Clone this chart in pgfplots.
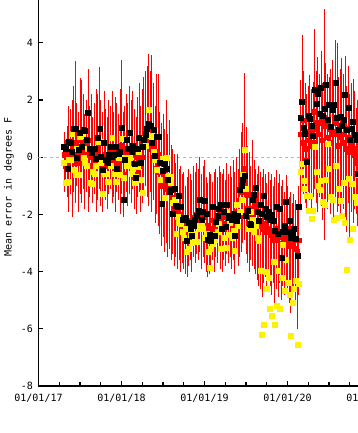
\documentclass[border=0pt]{standalone}
\usepackage{pgfplots}
\pgfplotsset{compat=1.18}
\usepackage{pgfplotstable}
\usepackage{fontspec}
\newfontfamily\gfont{DejaVu Sans Mono}
\begin{document}
\pgfplotstableread{
x lo hi r y k
0.309 -1.2 0.9 0.1 -0.2 0.36
0.328 -1.0 0.6 -0.3 -0.9 0.3
0.348 -1.4 1.1 -0.2 -0.87 -0.4
0.367 -1.9 1.8 0.2 -0.1 0.55
0.386 -1.3 1.7 0.1 -0.08 0.5
0.405 -2.1 2.0 0.3 0.83 0.19
0.425 -1.2 2.5 0.4 -0.43 1.0
0.444 -1.6 3.37 0.5 -0.6 1.0
0.463 -1.0 1.9 -0.2 0.3 0.0
0.482 -1.9 1.6 0.2 -0.6 0.25
0.502 -1.3 2.76 0.6 0.71 0.85
0.521 -1.6 2.7 0.3 0.75 0.36
0.540 -1.1 2.2 0.5 0.0 0.95
0.559 -1.8 1.5 0.2 -0.2 0.92
0.578 -1.2 2.0 0.4 -0.3 0.62
0.598 -1.9 3.1 0.6 0.3 1.57
0.617 -1.4 1.8 0.1 -0.9 0.3
0.636 -1.0 2.2 -0.3 -0.92 0.15
0.655 -1.6 1.4 0.0 -0.5 0.3
0.675 -1.3 1.9 -0.1 -0.57 0.3
0.694 -1.9 2.4 0.2 -0.3 -0.05
0.713 -1.5 2.2 0.3 0.54 0.7
0.732 -1.1 3.17 0.5 0.54 1.0
0.752 -1.7 2.0 -0.2 -0.2 0.03
0.771 -1.9 1.6 -0.4 -1.27 -0.43
0.790 -1.2 2.3 0.1 -0.57 0.5
0.809 -1.5 1.7 -0.3 -0.57 -0.1
0.828 -1.8 1.4 -0.2 -0.87 -0.2
0.848 -1.3 2.0 0.0 -0.87 0.1
0.867 -1.1 1.8 0.2 -0.28 0.36
0.886 -1.6 2.3 0.3 0.69 0.03
0.905 -1.4 1.6 -0.1 -0.57 0.1
0.925 -1.9 2.1 0.0 -0.87 0.36
0.944 -1.2 1.9 -0.2 -0.57 -0.4
0.963 -1.5 1.5 -0.1 0.0 0.13
0.982 -2.0 2.4 0.1 -0.6 0.2
1.002 -1.3 3.4 0.4 0.65 1.03
1.021 -2.1 1.6 -0.6 -0.7 -1.5
1.040 -1.4 1.8 -0.1 0.0 -0.08
1.059 -1.2 2.2 0.2 -0.28 0.6
1.078 -1.7 1.9 0.0 -0.2 0.3
1.098 -1.3 2.5 0.3 0.0 0.85
1.117 -1.6 2.0 -0.2 -0.57 0.2
1.136 -1.1 2.3 0.1 -0.4 0.42
1.155 -1.8 1.7 -0.4 -0.9 -0.22
1.175 -2.0 1.4 -0.5 -0.69 -0.7
1.194 -1.4 2.1 0.0 -0.34 0.3
1.213 -1.2 2.6 0.3 0.2 0.7
1.232 -1.9 1.8 -0.3 -0.8 -0.2
1.252 -1.6 2.4 0.0 -1.25 0.36
1.271 -1.3 2.8 0.4 0.65 0.6
1.290 -1.0 3.0 0.5 0.4 0.8
1.309 -1.4 3.2 0.6 0.9 1.0
1.328 -1.7 3.6 0.7 1.67 1.18
1.348 -1.2 3.0 0.5 0.77 1.1
1.367 -1.9 3.58 0.3 0.6 0.5
1.386 -1.5 2.6 0.4 0.2 0.95
1.405 -2.3 1.8 -0.4 -0.1 0.05
1.425 -2.0 2.9 0.2 -0.43 0.71
1.444 -2.4 2.9 0.1 -0.43 0.71
1.463 -2.7 1.6 -0.5 -0.8 -0.2
1.482 -3.1 1.2 -1.0 -0.48 -1.63
1.502 -2.8 1.5 -0.6 -0.05 -0.46
1.521 -3.3 1.0 -0.7 -1.41 -0.22
1.540 -3.0 2.0 -0.9 0.0 -0.4
1.559 -3.5 0.8 -1.1 -0.63 -0.8
1.578 -3.2 1.3 -1.0 -0.69 -1.2
1.598 -3.6 0.42 -1.4 -0.9 -1.13
1.617 -3.4 0.3 -1.6 -1.6 -1.98
1.636 -3.8 0.1 -1.8 -1.48 -1.1
1.655 -3.5 -0.2 -1.9 -2.68 -1.68
1.675 -3.9 0.1 -1.7 -2.07 -1.74
1.694 -3.6 -0.4 -2.0 -2.3 -1.33
1.713 -4.0 -0.3 -2.2 -2.33 -1.74
1.732 -3.7 -0.6 -2.3 -2.6 -2.2
1.752 -3.9 -0.5 -2.4 -2.8 -2.1
1.771 -4.1 -1.0 -2.3 -2.5 -2.1
1.790 -4.2 -0.7 -2.6 -3.32 -2.91
1.809 -3.8 -0.4 -2.5 -3.2 -2.3
1.828 -3.6 -0.6 -2.2 -2.7 -2.5
1.848 -4.0 -0.8 -2.4 -3.0 -2.74
1.867 -3.5 -0.3 -2.1 -2.68 -2.39
1.886 -3.7 -0.5 -2.3 -2.9 -2.2
1.905 -3.4 -0.2 -2.0 -2.97 -2.03
1.925 -3.6 -0.4 -2.1 -2.5 -1.86
1.944 -3.3 0.0 -1.9 -2.4 -1.48
1.963 -3.9 -0.6 -2.3 -2.33 -2.19
1.982 -3.5 -0.3 -2.0 -2.5 -1.9
2.002 -3.7 -0.1 -2.1 -2.8 -1.51
2.021 -4.0 -0.7 -2.4 -2.68 -1.98
2.040 -4.2 -0.9 -2.6 -3.3 -2.88
2.059 -4.1 -0.5 -2.7 -3.85 -2.7
2.078 -3.8 -0.6 -2.5 -3.2 -2.91
2.098 -3.6 -0.87 -2.2 -3.03 -1.74
2.117 -4.0 -0.5 -2.4 -2.9 -2.74
2.136 -3.5 -0.4 -2.2 -2.7 -2.27
2.155 -3.7 -0.7 -2.3 -2.6 -2.03
2.175 -3.3 -0.3 -2.0 -2.33 -1.8
2.194 -3.9 -0.5 -2.2 -3.2 -1.65
2.213 -4.0 -0.6 -2.5 -3.2 -2.5
2.232 -3.6 -0.4 -2.1 -2.8 -1.92
2.252 -3.8 -0.8 -2.3 -3.15 -2.44
2.271 -3.4 -0.2 -1.9 -1.92 -1.65
2.290 -3.7 -0.6 -2.2 -2.7 -2.1
2.309 -3.5 -0.3 -2.0 -2.3 -2.03
2.328 -3.9 -0.7 -2.3 -2.8 -2.2
2.348 -3.6 -0.1 -2.1 -2.56 -1.98
2.367 -4.1 -0.5 -2.4 -3.26 -2.74
2.386 -3.4 0.0 -1.9 -1.65 -2.21
2.405 -3.8 -0.4 -2.0 -2.4 -2.03
2.425 -3.5 0.3 -1.5 -1.9 -1.13
2.444 -3.3 0.9 -1.2 -1.5 -1.0
2.463 -3.0 1.2 -0.9 -0.6 -0.8
2.482 -2.9 2.95 -0.4 0.25 -0.63
2.502 -3.4 1.06 -1.3 -1.1 -2.03
2.521 -3.7 0.4 -1.8 -2.5 -1.86
2.540 -4.0 0.2 -2.0 -2.5 -2.33
2.559 -3.6 -0.3 -2.1 -1.92 -2.35
2.578 -3.8 0.6 -1.8 -2.2 -1.48
2.598 -3.9 -0.1 -1.7 -2.6 -1.3
2.617 -4.1 -0.4 -1.5 -2.4 -1.06
2.636 -4.3 -0.6 -2.2 -2.8 -1.9
2.655 -4.5 -0.3 -2.4 -2.91 -2.21
2.675 -4.6 -0.5 -2.2 -3.96 -1.65
2.694 -4.9 -0.7 -2.5 -6.21 -1.98
2.713 -4.4 -0.4 -2.3 -5.84 -1.33
2.732 -4.2 -0.6 -2.4 -4.0 -1.8
2.752 -4.7 -0.9 -2.6 -4.61 -2.09
2.771 -4.3 -0.5 -2.5 -4.2 -1.9
2.790 -4.5 -0.8 -2.7 -5.31 -2.19
2.809 -4.8 -0.6 -2.6 -5.54 -2.0
2.828 -4.4 -1.0 -2.8 -3.67 -2.21
2.848 -5.3 -0.7 -2.9 -5.87 -2.56
2.867 -4.6 -0.46 -2.5 -5.19 -1.74
2.886 -4.9 -0.9 -2.8 -3.96 -2.68
2.905 -4.4 -0.6 -2.6 -5.31 -1.8
2.925 -5.0 -1.0 -3.0 -4.2 -3.5
2.944 -4.5 -0.8 -2.7 -3.05 -2.62
2.963 -4.8 -1.2 -2.9 -4.67 -2.4
2.982 -4.5 -0.63 -2.5 -3.58 -1.54
3.002 -4.7 -1.0 -2.8 -4.4 -2.6
3.021 -5.1 -1.4 -3.0 -4.82 -2.21
3.040 -5.43 -1.2 -3.1 -6.25 -2.8
3.059 -4.9 -1.6 -3.0 -5.1 -2.7
3.078 -4.7 -1.3 -2.9 -4.61 -2.5
3.098 -5.2 -1.5 -3.2 -4.32 -2.85
3.117 -6.0 -1.8 -3.3 -6.54 -3.44
3.136 -4.8 -1.0 -2.9 -4.43 -1.72
3.155 -1.8 2.7 0.8 -0.5 1.39
3.175 -1.0 4.26 1.3 -0.22 1.96
3.194 -1.3 3.0 0.5 -1.1 1.04
3.213 -1.6 2.6 0.3 -0.81 0.81
3.232 -1.8 2.2 -0.1 -1.33 -0.16
3.252 -1.2 2.5 0.6 -1.88 1.45
3.271 -1.5 2.88 0.9 -1.33 1.36
3.290 -2.0 2.4 0.4 -2.15 1.12
3.309 -1.4 2.64 0.5 -1.86 0.77
3.328 -1.1 4.48 1.6 0.36 2.35
3.348 -1.6 3.0 1.0 -0.52 1.88
3.367 -1.9 3.52 1.2 -0.98 2.21
3.386 -1.4 2.9 0.8 -1.13 1.53
3.405 -1.7 3.7 1.3 -0.81 2.45
3.425 -2.2 2.6 0.6 -1.57 1.44
3.444 -2.91 5.18 1.4 -1.65 1.71
3.463 -1.5 3.3 1.1 -0.8 2.55
3.482 -1.8 2.9 0.7 0.48 1.33
3.502 -1.3 2.82 1.0 -0.4 1.85
3.521 -2.0 3.1 0.5 -1.39 1.06
3.540 -1.6 3.4 0.9 -1.48 1.65
3.559 -2.2 2.7 0.8 -2.18 1.85
3.578 -1.4 4.1 1.2 -0.28 2.61
3.598 -1.9 4.0 0.9 -2.12 1.4
3.617 -1.7 2.8 0.4 -1.1 0.95
3.636 -2.0 3.1 0.7 -1.51 1.41
3.655 -1.5 3.46 0.8 -2.03 1.1
3.675 -1.8 2.9 0.5 -0.9 1.32
3.694 -2.1 3.54 1.0 -2.3 2.2
3.713 -2.6 2.5 0.3 -3.94 0.95
3.732 -1.6 3.19 0.7 -0.75 1.74
3.752 -2.9 2.2 0.2 -2.89 0.6
3.771 -1.9 2.6 0.4 -0.92 1.0
3.790 -2.3 2.73 0.3 -2.5 1.24
3.809 -1.8 2.3 0.1 -1.39 0.8
3.828 -2.0 1.74 -0.2 -1.6 0.62
3.848 -2.4 2.0 0.0 -0.6 -0.57
}\data
\begin{tikzpicture}
\begin{axis}[name=ax, scale only axis, width=348.6pt, height=386pt,
  xmin=0, xmax=4.2, ymin=-8, ymax=5.5,
  axis x line*=bottom, axis y line*=left,
  x axis line style={-, line width=1.3pt}, y axis line style={-, line width=1.3pt},
  xtick={0,1,2,3,4}, xticklabels={01/01/17,01/01/18,01/01/19,01/01/20,01/01/21},
  minor x tick num=3,
  ytick={-8,-6,-4,-2,0,2,4}, yticklabels={-8,-6,-4,-2,0,2,4},
  tick align=inside, major tick length=5pt, minor tick length=4pt,
  tick style={black, line width=1.2pt},
  ticklabel style={font=\gfont\fontsize{10}{12}\selectfont},
  yticklabel style={xshift=-2pt},
  xticklabel style={yshift=-5pt},
  every axis y label/.style={at={(axis description cs:0,0.5155)}, xshift=-29.5pt, rotate=90, anchor=center, font=\gfont\fontsize{10}{12}\selectfont},
  ylabel={Mean error in degrees F},
]
\addplot[gray!55, line width=0.8pt, dash pattern=on 3pt off 3pt, forget plot] coordinates {(0,0) (4.2,0)};
\addplot[only marks, mark=square*, mark size=2.3pt, mark options={fill=red, draw=red},
  error bars/.cd, y dir=both, y explicit, error mark=none,
  error bar style={red, line width=1pt}]
  table[x=x, y=r, y error plus expr={\thisrow{hi}-\thisrow{r}}, y error minus expr={\thisrow{r}-\thisrow{lo}}] {\data};
\addplot[only marks, mark=square*, mark size=2.5pt, mark options={fill=yellow, draw=yellow}] table[x=x, y=y] {\data};
\addplot[only marks, mark=square*, mark size=2.5pt, mark options={fill=black, draw=black}] table[x=x, y=k] {\data};
\end{axis}
\pgfresetboundingbox
\path[use as bounding box] ([xshift=-38.5pt, yshift=-47pt]ax.south west) rectangle ([xshift=318.5pt, yshift=386pt]ax.south west);
\end{tikzpicture}
\end{document}
